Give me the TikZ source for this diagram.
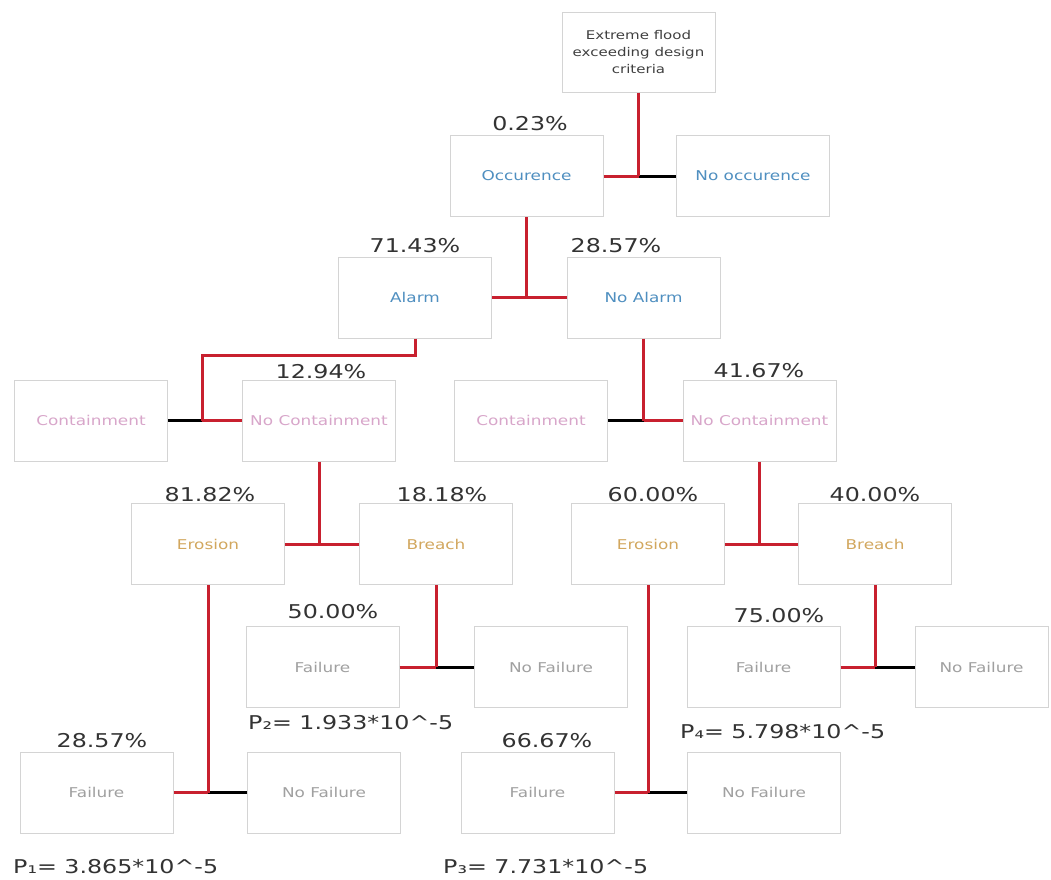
\documentclass[tikz,border=0pt]{standalone}
\usepackage{fontspec}
\setmainfont{DejaVu Sans}
\newfontfamily\wfont[FakeStretch=1.25]{DejaVu Sans}
\definecolor{boxgray}{HTML}{D4D4D4}
\definecolor{tblue}{HTML}{4F8FC0}
\definecolor{tpink}{HTML}{D8A6CA}
\definecolor{ttan}{HTML}{D2A75E}
\definecolor{tfail}{HTML}{A0A0A0}
\definecolor{ttop}{HTML}{404040}
\definecolor{pctgray}{HTML}{333333}
\definecolor{lred}{HTML}{C8202F}
\begin{document}
\begin{tikzpicture}[x=1pt,y=-1pt,
  boxbase/.style={draw=boxgray, line width=1pt, minimum width=153pt, minimum height=81pt, inner sep=0pt, font=\wfont\fontsize{13.5}{15}\selectfont},
  boxev/.style={boxbase, text=tblue},
  boxct/.style={boxbase, text=tpink},
  boxer/.style={boxbase, text=ttan},
  boxfl/.style={boxbase, text=tfail},
  boxtop/.style={boxbase, minimum height=80pt, text=ttop, align=center, font=\wfont\fontsize{12}{17}\selectfont},
  pct/.style={font=\wfont\fontsize{19}{22}\selectfont, text=pctgray, inner sep=0pt, anchor=base},
  plab/.style={pct, anchor=base west},
  redl/.style={draw=lred, line width=3pt},
  blkl/.style={draw=black, line width=3pt}]
\useasboundingbox[fill=white] (0,0) rectangle (1051,879);

% boxes
\node[boxtop] (top) at (638.5,52) {Extreme flood\\exceeding design\\criteria};
\node[boxev] (occ) at (526.5,176) {Occurence};
\node[boxev] (nocc) at (753,176) {No occurence};
\node[boxev] (alarm) at (415,297.5) {Alarm};
\node[boxev] (noalarm) at (643.5,297.5) {No Alarm};
\node[boxct] (contL) at (91,420.5) {Containment};
\node[boxct] (nocontL) at (319,420.5) {No Containment};
\node[boxct] (contR) at (531,420.5) {Containment};
\node[boxct] (nocontR) at (759.5,420.5) {No Containment};
\node[boxer] (erosL) at (208,544) {Erosion};
\node[boxer] (breachL) at (436,544) {Breach};
\node[boxer] (erosR) at (648,544) {Erosion};
\node[boxer] (breachR) at (875,544) {Breach};
\node[boxfl] (fail2) at (322.5,667) {Failure};
\node[boxfl] (nofail2) at (551,667) {No Failure};
\node[boxfl] (fail4) at (763.5,667) {Failure};
\node[boxfl, minimum width=133pt] (nofail4) at (981.5,667) {No Failure};
\node[boxfl] (fail1) at (96.5,792.5) {Failure};
\node[boxfl] (nofail1) at (324,792.5) {No Failure};
\node[boxfl] (fail3) at (537.5,792.5) {Failure};
\node[boxfl] (nofail3) at (764,792.5) {No Failure};

% percentages
\node[pct] (p023) at (530,130) {0.23\%};
\node[pct] (p7143) at (415,252) {71.43\%};
\node[pct] (p2857a) at (616,252) {28.57\%};
\node[pct] (p1294) at (321,378) {12.94\%};
\node[pct] (p4167) at (759,377) {41.67\%};
\node[pct] (p8182) at (210,501) {81.82\%};
\node[pct] (p1818) at (442,501) {18.18\%};
\node[pct] (p6000) at (653,501) {60.00\%};
\node[pct] (p4000) at (875,501) {40.00\%};
\node[pct] (p5000) at (333,618) {50.00\%};
\node[pct] (p7500) at (779,622) {75.00\%};
\node[pct] (p2857b) at (102,747) {28.57\%};
\node[pct] (p6667) at (547,747) {66.67\%};

% probability labels
\node[plab] (P1) at (13,873) {P₁= 3.865*10\^{}-5};
\node[plab] (P2) at (248,729) {P₂= 1.933*10\^{}-5};
\node[plab] (P3) at (443,873) {P₃= 7.731*10\^{}-5};
\node[plab] (P4) at (680,738) {P₄= 5.798*10\^{}-5};

% junction coordinates
\coordinate (j1) at (top.south |- occ.east);
\coordinate (j2) at (occ.south |- alarm.east);
\coordinate (b3) at (202,355);
\coordinate (j3) at (b3 |- contL.east);
\coordinate (j4) at (noalarm.south |- contR.east);
\coordinate (j5) at (nocontL.south |- erosL.east);
\coordinate (j6) at (nocontR.south |- erosR.east);
\coordinate (j7) at (breachL.south |- fail2.east);
\coordinate (j8) at (breachR.south |- fail4.east);
\coordinate (j9) at (erosL.south |- fail1.east);
\coordinate (j10) at (erosR.south |- fail3.east);

% connectors
\draw[redl] (occ.east) -- (j1);
\draw[blkl] (j1) -- (nocc.west);
\draw[redl] (top.south) -- (j1);

\draw[redl] (alarm.east) -- (noalarm.west);
\draw[redl] (occ.south) -- (j2);

\draw[blkl] (contL.east) -- (j3);
\draw[redl] (j3) -- (nocontL.west);
\draw[redl] (alarm.south) |- (b3) -- (j3);

\draw[blkl] (contR.east) -- (j4);
\draw[redl] (j4) -- (nocontR.west);
\draw[redl] (noalarm.south) -- (j4);

\draw[redl] (erosL.east) -- (breachL.west);
\draw[redl] (nocontL.south) -- (j5);

\draw[redl] (erosR.east) -- (breachR.west);
\draw[redl] (nocontR.south) -- (j6);

\draw[redl] (fail2.east) -- (j7);
\draw[blkl] (j7) -- (nofail2.west);
\draw[redl] (breachL.south) -- (j7);

\draw[redl] (fail4.east) -- (j8);
\draw[blkl] (j8) -- (nofail4.west);
\draw[redl] (breachR.south) -- (j8);

\draw[redl] (fail1.east) -- (j9);
\draw[blkl] (j9) -- (nofail1.west);
\draw[redl] (erosL.south) -- (j9);

\draw[redl] (fail3.east) -- (j10);
\draw[blkl] (j10) -- (nofail3.west);
\draw[redl] (erosR.south) -- (j10);
\end{tikzpicture}
\end{document}
